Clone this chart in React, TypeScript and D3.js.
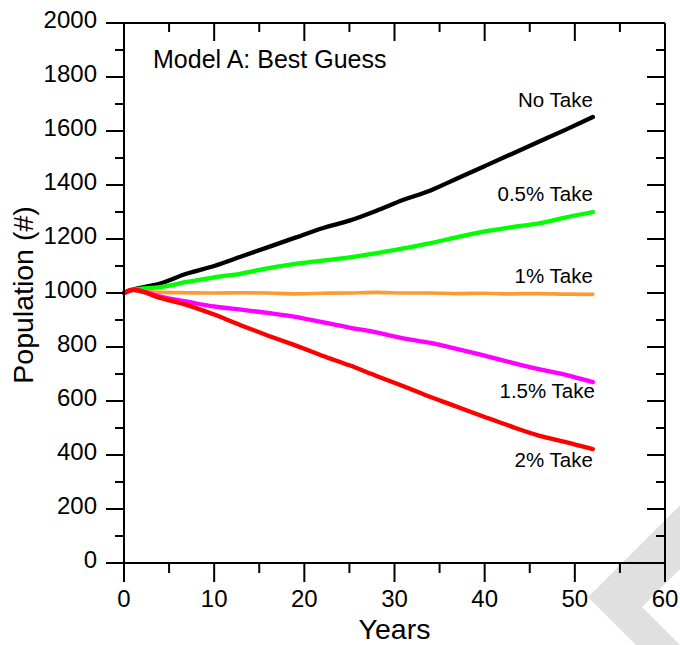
import React from "react";
import * as d3 from "d3";

const years = [0, 1, 4, 7, 10, 13, 16, 19, 22, 25, 28, 31, 34, 37, 40, 43, 46, 49, 52];
const noTake = [1000, 1012, 1035, 1072, 1100, 1135, 1170, 1205, 1240, 1268, 1305, 1345, 1380, 1425, 1470, 1515, 1560, 1605, 1652];
const take05 = [1000, 1012, 1022, 1041, 1058, 1072, 1092, 1108, 1120, 1132, 1148, 1165, 1185, 1207, 1228, 1244, 1258, 1280, 1300];
const take1 = [1000, 1010, 1002, 1001, 1000, 1001, 1000, 997, 999, 1000, 1002, 1000, 1000, 998, 999, 997, 998, 996, 995];
const take15 = [1000, 1012, 987, 968, 950, 938, 926, 912, 892, 872, 854, 832, 815, 792, 768, 742, 718, 697, 670];
const take2 = [1000, 1012, 982, 955, 920, 880, 842, 806, 768, 732, 693, 655, 615, 578, 541, 505, 472, 448, 422];

const seriesNames = ["No Take", "0.5% Take", "1% Take", "1.5% Take", "2% Take"];
const seriesValues = [noTake, take05, take1, take15, take2];
const seriesColors = ["#000000", "#00ff00", "#ff9933", "#ff00ff", "#ff0000"];
const labelOffsets = [-10, -11, -11, 16, 18];
const labelDx = [0, 0, 0, 2, 0];

const xMajor = [0, 10, 20, 30, 40, 50, 60];
const xMinor = [5, 15, 25, 35, 45, 55];
const yMajor = [0, 200, 400, 600, 800, 1000, 1200, 1400, 1600, 1800, 2000];
const yMinor = [100, 300, 500, 700, 900, 1100, 1300, 1500, 1700, 1900];

const W = 680, H = 645;
const L = 124, R = 665, T = 23, B = 563;

export default function App() {
  const x = d3.scaleLinear().domain([0, 60]).range([L, R]);
  const y = d3.scaleLinear().domain([0, 2000]).range([B, T]);
  const line = d3
    .line<number>()
    .x((_, i) => x(years[i]))
    .y((v) => y(v))
    .curve(d3.curveMonotoneX);
  const font = "Arial, 'Liberation Sans', Helvetica, sans-serif";
  const sw = 2;
  return (
    <svg
      width={W}
      height={H}
      style={{ position: "absolute", left: 0, top: 0, background: "#fff" }}
      fontFamily={font}
    >
      <polygon points="680,505 588,597 636,645 680,645 642,607 680,569" fill="#e0e0e0" />
      {seriesValues.map((vals, i) => (
        <path
          key={i}
          d={line(vals) || ""}
          fill="none"
          stroke={seriesColors[i]}
          strokeWidth={i === 2 ? 3.7 : 4.3}
          strokeLinecap="round"
          strokeLinejoin="round"
        />
      ))}
      {seriesValues.map((vals, i) => (
        <text
          key={"l" + i}
          x={x(years[years.length - 1]) + labelDx[i]}
          y={y(vals[vals.length - 1]) + labelOffsets[i]}
          textAnchor="end"
          fontSize={20.5}
          fill="#000"
        >
          {seriesNames[i]}
        </text>
      ))}
      {/* frame */}
      <g stroke="#000" strokeWidth={sw} fill="none">
        <line x1={L - 18} x2={R} y1={B} y2={B} />
        <line x1={L - 18} x2={R} y1={T} y2={T} />
        <line x1={L} x2={L} y1={T} y2={B + 19} />
        <line x1={R} x2={R} y1={T} y2={B + 19} />
        {xMajor.map((v) => (
          <g key={"xm" + v}>
            <line x1={x(v)} x2={x(v)} y1={B} y2={B + 19} />
            <line x1={x(v)} x2={x(v)} y1={T} y2={T + 18} />
          </g>
        ))}
        {xMinor.map((v) => (
          <g key={"xn" + v}>
            <line x1={x(v)} x2={x(v)} y1={B} y2={B + 10} />
            <line x1={x(v)} x2={x(v)} y1={T} y2={T + 9} />
          </g>
        ))}
        {yMajor.map((v) => (
          <g key={"ym" + v}>
            <line x1={L - 18} x2={L} y1={y(v)} y2={y(v)} />
            <line x1={R - 18} x2={R} y1={y(v)} y2={y(v)} />
          </g>
        ))}
        {yMinor.map((v) => (
          <g key={"yn" + v}>
            <line x1={L - 9} x2={L} y1={y(v)} y2={y(v)} />
            <line x1={R - 9} x2={R} y1={y(v)} y2={y(v)} />
          </g>
        ))}
      </g>
      {xMajor.map((v) => (
        <text key={"xt" + v} x={x(v)} y={607} textAnchor="middle" fontSize={24} fill="#000">
          {v}
        </text>
      ))}
      {yMajor.map((v) => (
        <text key={"yt" + v} x={97} y={y(v) + 4.5} textAnchor="end" fontSize={24} fill="#000">
          {v}
        </text>
      ))}
      <text x={(L + R) / 2} y={638.5} textAnchor="middle" fontSize={28.5} fill="#000">
        Years
      </text>
      <text
        transform={`translate(33, ${(T + B) / 2 + 2}) rotate(-90)`}
        textAnchor="middle"
        fontSize={28.5}
        fill="#000"
      >
        Population (#)
      </text>
      <text x={153} y={68} fontSize={25} fill="#000">
        Model A: Best Guess
      </text>
    </svg>
  );
}
